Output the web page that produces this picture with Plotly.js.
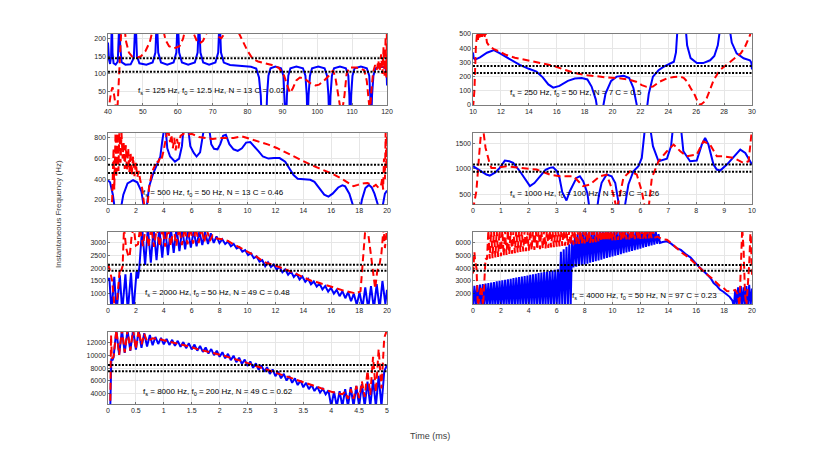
<!DOCTYPE html>
<html>
  <head>
    <meta charset="utf-8" />
    <title>Instantaneous Frequency</title>
    <script src="https://cdn.plot.ly/plotly-3.0.1.min.js"></script>
    <style>
      body { margin: 0; padding: 0; background: white; }
      #graphDiv { width: 830px; height: 453px; }
    </style>
  </head>
  <body>
    <div id="graphDiv"></div>
    <script>
      // panel parameters
      const fsVals = [125, 250, 500, 1000, 2000, 4000, 8000];
      const f0Vals = [12.5, 50, 50, 100, 50, 50, 200];
      const nVals = [13, 7, 13, 13, 49, 97, 49];
      const cVals = [0.02, 0.5, 0.46, 1.26, 0.48, 0.23, 0.62];

      // dotted reference lines, [upper, lower] per panel
      const refLines = [[144, 106], [275, 225], [540, 460], [1085, 945], [2140, 1900], [4270, 3800], [8500, 7500]];

      // [t (ms), f (Hz)] blue solid traces
      const blue1 = [[40,188],[40.3,140],[40.6,128],[40.9,150],[41.1,260],[41.3,160],[41.6,130],[42.2,126],[42.8,135],[43.1,190],[43.3,260],[43.5,180],[43.9,133],[45,126],[46.5,127],[47.4,145],[47.9,260],[48.3,150],[49,130],[51,126],[52.8,132],[53.6,160],[54,260],[54.4,160],[55.2,132],[57,126],[58.8,132],[59.6,160],[60,260],[60.4,160],[61.2,132],[63,126],[64.9,132],[65.7,160],[66.1,260],[66.5,160],[67.3,132],[69,126],[70.8,132],[71.6,160],[72,260],[72.4,160],[73.2,132],[75,125],[78,123],[81,120],[82.5,115],[83.3,90],[83.8,40],[84.2,-60],[85.3,-60],[85.6,40],[86,95],[86.6,116],[88,121],[89.6,116],[90.3,95],[90.7,40],[91,-60],[91.3,40],[91.7,95],[92.3,116],[94,121],[95.9,116],[96.6,95],[97,40],[97.2,-60],[97.5,40],[97.9,95],[98.5,116],[100.3,121],[102.1,116],[102.8,95],[103.2,40],[103.5,-60],[103.8,40],[104.2,95],[104.8,116],[106.5,121],[108.2,116],[108.9,95],[109.2,40],[109.4,-60],[109.7,40],[110.1,95],[110.7,116],[112.5,121],[114.2,116],[114.9,95],[115.2,40],[115.4,-60],[115.7,40],[116.1,95],[116.7,116],[118.5,120],[119.5,118],[119.9,100],[120,68]];
      const blue2 = [[10,370],[10.05,330],[10.15,320],[10.5,335],[11,368],[11.5,387],[12,360],[12.7,318],[13.35,282],[14,255],[14.55,235],[15,195],[15.4,145],[15.75,122],[16.2,135],[16.8,170],[17.3,186],[17.8,190],[18.2,180],[18.5,130],[18.8,40],[19,-80],[19.2,-80],[19.5,80],[19.9,170],[20.3,200],[20.8,206],[21.2,190],[21.5,120],[21.7,20],[21.9,-80],[22.4,-80],[22.6,80],[22.9,200],[23.3,245],[23.65,268],[24,285],[24.4,305],[24.55,370],[24.7,600],[25.2,600],[25.35,420],[25.6,330],[26.05,295],[26.5,295],[27,315],[27.3,345],[27.55,420],[27.8,600],[28.3,600],[28.55,440],[28.9,364],[29.4,329],[29.85,315],[29.95,300],[30,250]];
      const blue3 = [[0,387],[0.15,370],[0.35,250],[0.5,100],[0.9,100],[1.1,250],[1.4,360],[1.8,390],[2.1,370],[2.4,280],[2.6,100],[2.75,100],[2.95,330],[3.2,440],[3.5,540],[3.75,620],[3.9,780],[4,950],[4.1,950],[4.25,700],[4.45,620],[4.8,570],[5.1,600],[5.3,720],[5.45,950],[5.7,950],[5.9,720],[6.15,655],[6.35,620],[6.6,660],[6.8,790],[6.95,950],[7.2,950],[7.4,740],[7.6,695],[7.85,690],[8.05,740],[8.25,820],[8.45,830],[8.7,740],[9,690],[9.3,675],[9.6,700],[9.9,755],[10.2,760],[10.5,720],[10.8,670],[11.1,620],[11.5,600],[11.9,605],[12.3,605],[12.7,570],[13.05,493],[13.3,440],[13.6,405],[14,398],[14.5,395],[14.8,375],[15.2,300],[15.5,250],[15.8,232],[16.1,260],[16.5,320],[16.8,340],[17,330],[17.3,260],[17.55,150],[17.7,50],[18,50],[18.2,200],[18.45,315],[18.7,345],[18.9,320],[19.1,260],[19.35,150],[19.5,50],[19.7,150],[19.85,260],[20,290]];
      const blue4 = [[0,1053],[0.2,980],[0.48,888],[0.6,868],[0.8,930],[0.96,1020],[1.14,1164],[1.3,1150],[1.44,1118],[1.68,954],[1.85,820],[2.04,658],[2.2,720],[2.4,855],[2.6,980],[2.75,1020],[2.87,1033],[3,960],[3.1,822],[3.2,540],[3.35,375],[3.47,559],[3.6,720],[3.71,822],[3.83,855],[3.95,757],[4.1,520],[4.19,150],[4.43,150],[4.52,500],[4.61,724],[4.79,888],[4.97,855],[5.1,720],[5.18,450],[5.27,150],[5.41,150],[5.5,500],[5.57,691],[5.75,954],[5.93,1053],[6.05,1217],[6.13,1500],[6.2,2000],[6.3,2000],[6.45,1450],[6.65,1151],[6.95,1200],[7.1,1450],[7.2,2000],[7.42,2000],[7.54,1349],[7.78,1151],[8.02,1164],[8.2,1480],[8.32,1612],[8.44,1480],[8.62,1086],[8.74,987],[8.86,967],[9.1,1086],[9.46,1316],[9.58,1382],[9.76,1316],[10,1086]];
      const blue5 = [[0,1500],[0.1,1620],[0.25,300],[0.45,1660],[0.62,300],[0.85,1720],[1.02,300],[1.25,1760],[1.42,300],[1.65,1820],[1.82,300],[2.05,1880],[2.15,1600],[2.25,2050],[2.45,3600],[2.66,2130],[2.86,3600],[3.07,2220],[3.27,3600],[3.48,2320],[3.68,3600],[3.89,2420],[4.09,3600],[4.3,2520],[4.5,3600],[4.71,2610],[4.91,3600],[5.12,2680],[5.32,3550],[5.53,2750],[5.73,3500],[5.94,2820],[6.14,3480],[6.35,2870],[6.55,3450],[6.76,2920],[6.96,3420],[7.17,2960],[7.37,3380],[7.58,3000],[7.78,3260],[7.99,3000],[8.19,3150],[8.4,2960],[8.6,3060],[8.81,2870],[9.01,2960],[9.22,2780],[9.42,2840],[9.63,2660],[9.83,2720],[10.04,2520],[10.24,2600],[10.45,2400],[10.65,2470],[10.86,2260],[11.06,2320],[11.27,2080],[11.47,2240],[11.68,2050],[11.88,2150],[12.09,1950],[12.29,2060],[12.5,1840],[12.7,1960],[12.91,1750],[13.11,1880],[13.32,1660],[13.52,1780],[13.73,1560],[13.93,1680],[14.14,1470],[14.34,1590],[14.55,1370],[14.75,1480],[14.96,1280],[15.16,1400],[15.37,1170],[15.57,1300],[15.78,1080],[15.98,1230],[16.19,1000],[16.39,1150],[16.6,900],[16.8,1100],[17.01,820],[17.21,1060],[17.42,700],[17.62,1000],[17.83,560],[18.03,1050],[18.24,450],[18.44,1250],[18.65,400],[18.85,1300],[19.06,400],[19.26,1380],[19.47,400],[19.67,1500],[19.88,600],[20,1150]];
      const blue6 = [[0,1000],[0.1,2620],[0.2,1000],[0.3,2670],[0.4,1000],[0.5,2710],[0.6,1000],[0.7,2750],[0.8,1000],[0.9,2800],[1,1000],[1.1,2840],[1.2,1000],[1.3,2880],[1.4,1000],[1.5,2920],[1.6,1000],[1.7,2970],[1.8,1000],[1.9,3010],[2,1000],[2.1,3050],[2.2,1000],[2.3,3100],[2.4,1000],[2.5,3140],[2.6,1000],[2.7,3180],[2.8,1000],[2.9,3230],[3,1000],[3.1,3270],[3.2,1000],[3.3,3310],[3.4,1000],[3.5,3360],[3.6,1000],[3.7,3400],[3.8,1000],[3.9,3440],[4,1000],[4.1,3490],[4.2,1000],[4.3,3530],[4.4,1000],[4.5,3570],[4.6,1000],[4.7,3620],[4.8,1000],[4.9,3660],[5,1000],[5.1,3700],[5.2,1000],[5.3,3740],[5.4,1000],[5.5,3790],[5.6,1000],[5.7,3830],[5.8,1000],[5.9,3880],[6,1000],[6.1,3920],[6.2,1000],[6.3,5300],[6.4,1000],[6.5,5500],[6.6,1000],[6.7,5700],[6.8,1000],[6.9,5900],[7,1000],[7.1,6200],[7.2,4060],[7.3,6500],[7.4,4120],[7.5,6700],[7.6,4190],[7.7,6900],[7.8,4250],[7.9,7000],[8,4310],[8.1,7000],[8.2,4370],[8.3,7000],[8.4,4440],[8.5,7000],[8.6,4500],[8.7,7000],[8.8,4560],[8.9,7000],[9,4620],[9.1,7000],[9.2,4690],[9.3,7000],[9.4,4750],[9.5,7000],[9.6,4810],[9.7,7000],[9.8,4870],[9.9,7000],[10,4940],[10.1,7000],[10.2,5000],[10.3,7000],[10.4,5060],[10.5,7000],[10.6,5120],[10.7,7000],[10.8,5190],[10.9,7000],[11,5250],[11.1,7000],[11.2,5310],[11.3,7000],[11.4,5370],[11.5,7000],[11.6,5440],[11.7,7000],[11.8,5500],[11.9,7000],[12,5560],[12.1,7000],[12.2,5620],[12.3,7000],[12.4,5690],[12.5,7000],[12.6,5750],[12.7,7000],[12.8,5810],[12.9,7000],[13,5870],[13.1,6950],[13.2,5940],[13.3,6700],[13.4,6000],[13.6,6080],[13.9,6130],[14.2,5950],[14.6,5600],[14.9,5450],[15.3,5080],[15.6,4850],[16.05,4290],[16.3,4050],[16.5,3850],[16.8,3500],[17.05,3200],[17.25,2840],[17.5,2600],[17.7,2320],[17.95,2150],[18.2,1920],[18.4,1750],[18.6,1450],[18.7,1000],[18.8,2300],[18.9,1000],[19,2500],[19.1,1000],[19.2,2600],[19.3,1000],[19.4,2500],[19.5,1000],[19.6,2600],[19.7,1000],[19.8,2700],[19.9,1000],[20,2400]];
      const blue7 = [[0,1500],[0.04,1500],[0.06,9500],[0.08,9200],[0.1,9700],[0.15,14000],[0.2,10100],[0.25,14000],[0.3,10400],[0.35,14000],[0.4,10700],[0.45,14000],[0.5,10900],[0.55,13900],[0.6,11200],[0.65,13500],[0.7,11400],[0.75,13200],[0.8,11600],[0.85,12900],[0.9,11800],[0.95,12750],[1,11750],[1.05,12600],[1.1,11650],[1.15,12450],[1.2,11500],[1.25,12300],[1.3,11350],[1.35,12100],[1.4,11150],[1.45,11900],[1.5,10950],[1.55,11700],[1.6,10750],[1.65,11500],[1.7,10550],[1.75,11250],[1.8,10300],[1.85,11000],[1.9,10050],[1.95,10750],[2,9800],[2.05,10500],[2.1,9550],[2.15,10250],[2.2,9250],[2.25,9950],[2.3,8950],[2.35,9650],[2.4,8650],[2.45,9350],[2.5,8350],[2.55,9050],[2.6,8050],[2.65,8750],[2.7,7750],[2.75,8450],[2.8,7450],[2.85,8150],[2.9,7100],[2.95,7800],[3,6750],[3.05,7450],[3.1,6400],[3.15,7100],[3.2,6050],[3.25,6750],[3.3,5700],[3.35,6400],[3.4,5350],[3.45,6050],[3.5,5000],[3.55,5700],[3.6,4700],[3.65,5350],[3.7,4400],[3.75,5050],[3.8,4150],[3.85,4750],[3.9,3900],[3.95,4500],[4,2000],[4.05,4300],[4.1,2000],[4.15,4400],[4.2,2000],[4.25,4700],[4.3,2000],[4.35,5000],[4.4,2000],[4.45,5200],[4.5,2000],[4.55,5500],[4.6,2000],[4.65,5900],[4.7,2000],[4.75,6200],[4.8,2000],[4.85,6800],[4.9,2000],[4.95,7500],[5,8500]];

      // [t (ms), f (Hz)] red dashed traces
      const red1 = [[40,-10],[40.4,20],[40.9,50],[41.3,63],[41.7,45],[42.2,10],[42.6,-20],[43,60],[43.4,150],[43.8,250],[44.2,300],[44.6,240],[45.2,190],[46,160],[47,148],[48.2,145],[49.5,150],[50.8,165],[52,190],[53,230],[54,280],[55.5,240],[56.5,195],[57.5,178],[59,172],[60.5,178],[61.5,198],[62.5,240],[63.5,260],[64.5,215],[65.5,192],[66.3,186],[67.2,192],[68.3,215],[69.3,250],[70.5,230],[71.5,205],[72.5,200],[73.5,215],[74.5,240],[75.5,225],[76.5,218],[77.5,215],[78.5,195],[80,165],[81.5,142],[83,135],[85,130],[87,125],[89,117],[90.5,95],[91.5,65],[92.2,47],[93,60],[94,82],[95,90],[96.5,86],[98,74],[99.5,68],[100.5,70],[102,82],[103.5,97],[104.5,110],[105.2,90],[105.8,50],[106.6,5],[107.2,0],[107.8,40],[108.4,100],[109.2,118],[111,118],[112.5,115],[113.5,110],[114.2,80],[114.8,20],[115.1,-10],[115.5,50],[116,105],[116.6,125],[117.1,112],[117.5,138],[117.9,108],[118.3,155],[118.7,100],[119,175],[119.3,95],[119.6,205],[119.8,90],[120,260]];
      const red2 = [[10,-20],[10.1,100],[10.2,400],[10.3,520],[10.35,450],[10.4,530],[10.45,460],[10.5,540],[10.55,470],[10.6,540],[10.65,480],[10.7,530],[10.8,470],[10.9,510],[11,440],[11.2,410],[11.5,394],[12,370],[12.4,352],[13,333],[14.1,310],[15,292],[15.75,277],[16.5,250],[17.4,223],[18.2,210],[18.9,200],[19.7,193],[20.5,188],[21.2,178],[21.7,164],[22.1,140],[22.45,128],[22.9,130],[23.4,165],[23.9,188],[24.4,198],[24.85,200],[25.1,192],[25.35,165],[25.6,120],[25.9,70],[26.1,25],[26.3,0],[26.55,20],[26.75,47],[27,110],[27.25,176],[27.7,246],[28.4,300],[28.8,330],[29.2,364],[29.5,410],[29.7,450],[29.85,490],[30,540]];
      const red3 = [[0,100],[0.2,100],[0.3,200],[0.4,700],[0.45,300],[0.55,900],[0.6,420],[0.68,900],[0.75,480],[0.82,900],[0.9,560],[0.97,850],[1.05,600],[1.12,760],[1.2,500],[1.28,730],[1.36,480],[1.45,700],[1.53,470],[1.62,660],[1.7,440],[1.8,620],[1.9,430],[2,560],[2.1,420],[2.2,480],[2.3,400],[2.45,310],[2.55,200],[2.65,100],[2.8,100],[2.95,320],[3.1,430],[3.25,500],[3.4,540],[3.5,580],[3.6,560],[3.7,600],[3.8,580],[3.9,620],[4,680],[4.1,760],[4.2,860],[4.3,900],[4.45,760],[4.55,830],[4.65,700],[4.75,800],[4.85,680],[4.95,790],[5.05,700],[5.2,820],[5.4,840],[5.7,830],[6,840],[6.5,810],[7,800],[7.5,790],[8,800],[8.5,800],[9,800],[9.6,815],[10.2,790],[10.9,767],[11.5,735],[12.1,703],[12.7,662],[13.3,622],[13.9,582],[14.5,542],[15.1,508],[15.7,477],[16.2,445],[16.65,413],[17,385],[17.4,348],[17.6,332],[17.9,345],[18.1,355],[18.4,362],[18.6,364],[18.8,350],[19.05,332],[19.2,345],[19.4,316],[19.55,330],[19.65,400],[19.72,300],[19.78,600],[19.85,400],[19.9,850],[19.95,500],[20,900]];
      const red4 = [[0,200],[0.12,559],[0.24,1414],[0.3,1800],[0.36,1800],[0.45,1414],[0.6,1100],[0.66,1020],[0.84,1020],[1.2,1053],[1.68,1020],[2.28,987],[2.75,888],[3.11,855],[3.6,855],[3.95,658],[4.19,691],[4.55,855],[4.79,888],[4.95,650],[5.05,450],[5.15,200],[5.27,493],[5.39,822],[5.63,954],[5.87,888],[6.05,559],[6.17,200],[6.29,200],[6.41,822],[6.65,1151],[6.95,1349],[7.19,1480],[7.43,1349],[7.66,1250],[8.02,1283],[8.26,1546],[8.5,1480],[8.74,1250],[8.98,1250],[9.34,1217],[9.7,1118],[9.88,1151],[9.94,1480],[10,1800]];
      const red5 = [[0,2170],[0.12,1950],[0.3,1500],[0.45,600],[0.6,400],[0.75,1200],[0.85,2000],[0.95,1900],[1.05,2100],[1.15,3600],[1.3,2800],[1.45,2500],[1.55,2450],[1.7,3300],[1.85,3600],[2,2900],[2.15,2950],[2.3,3600],[2.5,2880],[2.7,3600],[2.9,2860],[3.1,3600],[3.3,2850],[3.5,3600],[3.7,2860],[3.9,3600],[4.1,2860],[4.3,3600],[4.5,2880],[4.7,3600],[4.9,2900],[5.1,3600],[5.3,2920],[5.5,3600],[5.7,2950],[5.9,3600],[6.1,2980],[6.3,3600],[6.5,3000],[6.7,3600],[6.9,3030],[7.1,3500],[7.3,3080],[7.5,3300],[7.8,3180],[8.2,3150],[8.6,3080],[9,2950],[9.4,2830],[9.8,2700],[10.2,2600],[10.6,2480],[11,2320],[11.4,2200],[11.8,2150],[12.2,2080],[12.6,1980],[13,1900],[13.4,1800],[13.8,1690],[14.2,1600],[14.6,1500],[15,1450],[15.4,1380],[15.8,1290],[16.2,1230],[16.6,1150],[17,1100],[17.4,1060],[17.8,1000],[18.1,1100],[18.3,2400],[18.45,3600],[18.6,3600],[18.75,3000],[18.9,2400],[19.05,1750],[19.15,1200],[19.3,1900],[19.45,2100],[19.6,2600],[19.75,3600],[19.85,2800],[19.95,3600],[20,3600]];
      const red6 = [[0,3600],[0.05,4400],[0.1,5300],[0.15,4600],[0.25,4000],[0.35,1000],[0.5,2000],[0.6,2600],[0.72,1000],[0.8,3000],[0.9,4800],[1,4700],[1.1,7000],[1.2,4750],[1.3,7000],[1.4,4800],[1.5,7000],[1.6,4850],[1.7,7000],[1.8,4900],[1.9,7000],[2,4950],[2.1,7000],[2.2,5000],[2.3,7000],[2.4,5050],[2.5,7000],[2.6,5100],[2.7,7000],[2.8,5150],[2.9,7000],[3,5200],[3.1,7000],[3.2,5250],[3.3,7000],[3.4,5300],[3.5,7000],[3.6,5330],[3.7,7000],[3.8,5360],[3.9,7000],[4,5390],[4.1,7000],[4.2,5420],[4.3,7000],[4.4,5460],[4.5,7000],[4.6,5490],[4.7,7000],[4.8,5520],[4.9,7000],[5,5550],[5.1,7000],[5.2,5580],[5.3,7000],[5.4,5610],[5.5,7000],[5.6,5640],[5.7,7000],[5.8,5670],[5.9,7000],[6,5700],[6.1,7000],[6.2,5730],[6.3,7000],[6.4,5760],[6.5,7000],[6.6,5790],[6.7,7000],[6.8,5820],[6.9,7000],[7,5850],[7.1,7000],[7.2,5870],[7.3,7000],[7.4,5900],[7.5,7000],[7.6,5920],[7.7,7000],[7.8,5940],[7.9,7000],[8,5970],[8.1,7000],[8.2,5990],[8.3,7000],[8.4,6010],[8.5,7000],[8.6,6040],[8.7,7000],[8.8,6060],[8.9,7000],[9,6080],[9.1,7000],[9.2,6110],[9.3,7000],[9.4,6130],[9.5,7000],[9.6,6150],[9.7,7000],[9.8,6180],[9.9,7000],[10,6200],[10.1,7000],[10.2,6220],[10.3,7000],[10.4,6240],[10.5,7000],[10.6,6260],[10.7,7000],[10.8,6270],[10.9,7000],[11,6280],[11.1,7000],[11.2,6290],[11.3,7000],[11.4,6300],[11.5,7000],[11.6,6310],[11.7,7000],[11.8,6320],[11.9,7000],[12,6330],[12.1,7000],[12.2,6340],[12.3,7000],[12.4,6350],[12.5,7000],[12.6,6370],[12.7,7000],[12.8,6380],[12.9,7000],[13,6400],[13.2,6500],[13.6,6300],[13.9,6260],[14.3,5900],[14.7,5500],[15,5210],[15.4,4900],[15.8,4500],[16.1,4160],[16.5,3800],[16.8,3500],[17.1,3240],[17.4,2900],[17.7,2600],[17.95,2450],[18.2,2200],[18.5,2180],[18.8,2300],[19,1900],[19.1,1000],[19.2,4000],[19.3,7200],[19.4,5500],[19.5,2000],[19.6,1000],[19.7,2500],[19.8,4300],[19.9,7200],[20,3500]];
      const red7 = [[0,1500],[0.04,1500],[0.055,13200],[0.07,9500],[0.1,9800],[0.15,14000],[0.2,10100],[0.25,14000],[0.3,10500],[0.35,14000],[0.4,10800],[0.45,14000],[0.5,11000],[0.55,14000],[0.6,11700],[0.65,13400],[0.7,12200],[0.8,12700],[0.9,12600],[1,12400],[1.1,12200],[1.2,12000],[1.3,11700],[1.4,11500],[1.5,11300],[1.6,11000],[1.7,10800],[1.8,10600],[1.9,10400],[2,10200],[2.1,9900],[2.2,9600],[2.3,9400],[2.4,9100],[2.5,8800],[2.6,8500],[2.7,8200],[2.8,7900],[2.9,7600],[3,7300],[3.1,7000],[3.2,6700],[3.3,6300],[3.4,6000],[3.5,5700],[3.6,5400],[3.7,5100],[3.8,4800],[3.9,4600],[4,4300],[4.1,4100],[4.2,3900],[4.25,4300],[4.3,3200],[4.35,4700],[4.4,3200],[4.45,5200],[4.5,3300],[4.55,5900],[4.6,3500],[4.65,7600],[4.7,3800],[4.75,9800],[4.8,4200],[4.85,11000],[4.9,4800],[4.95,12800],[5,14000]];

      const blueSeries = [blue1, blue2, blue3, blue4, blue5, blue6, blue7];
      const redSeries = [red1, red2, red3, red4, red5, red6, red7];

      // axes
      const xRanges = [[40, 120], [10, 30], [0, 20], [0, 10], [0, 20], [0, 20], [0, 5]];
      const yRanges = [[13, 212], [0, 500], [155, 848], [296, 1710], [592, 3434], [1184, 6868], [2368, 13684]];
      const xSteps = [10, 2, 2, 1, 2, 2, 0.5];
      const ySteps = [50, 100, 200, 500, 500, 1000, 2000];

      // label anchor points in data units
      const labelX = [48.0, 12.5, 2.37, 1.25, 2.49, 6.95, 0.6];
      const labelY = [52, 82, 268, 513, 1026, 1842, 4210];

      const colDomains = [[0.1301, 0.4663], [0.5699, 0.906]];
      const rowDomains = [[0.7682, 0.9249], [0.5486, 0.7064], [0.3289, 0.4879], [0.1082, 0.2671]];

      const FONT = "Liberation Sans, Arial, Helvetica, sans-serif";
      const traces = [];
      const layout = {
        width: 830,
        height: 453,
        margin: { l: 0, r: 0, t: 0, b: 0 },
        paper_bgcolor: "white",
        plot_bgcolor: "white",
        showlegend: false,
        hovermode: false,
        font: { family: FONT, color: "#262626", size: 8 },
        annotations: [],
      };

      for (let i = 0; i < 7; i++) {
        const n = i === 0 ? "" : String(i + 1);
        const xa = "x" + n;
        const ya = "y" + n;
        const row = Math.floor(i / 2);
        const col = i % 2;

        const axisCommon = {
          showline: true,
          mirror: true,
          linecolor: "#262626",
          linewidth: 0.6,
          showgrid: true,
          gridcolor: "#e6e6e6",
          gridwidth: 1,
          zeroline: false,
          ticks: "inside",
          ticklen: 2,
          tickwidth: 0.6,
          tickcolor: "#262626",
          tickfont: { size: 7, color: "#262626", family: FONT },
          exponentformat: "none",
          fixedrange: true,
        };

        layout["xaxis" + n] = Object.assign({}, axisCommon, {
          domain: colDomains[col],
          anchor: ya,
          range: xRanges[i],
          dtick: xSteps[i],
          tick0: 0,
        });
        layout["yaxis" + n] = Object.assign({}, axisCommon, {
          domain: rowDomains[row],
          anchor: xa,
          range: yRanges[i],
          dtick: ySteps[i],
          tick0: 0,
          tickformat: "d",
        });

        traces.push({
          x: blueSeries[i].map((p) => p[0]),
          y: blueSeries[i].map((p) => p[1]),
          xaxis: xa,
          yaxis: ya,
          mode: "lines",
          line: { color: "#0000ff", width: 2 },
          hoverinfo: "skip",
        });
        traces.push({
          x: redSeries[i].map((p) => p[0]),
          y: redSeries[i].map((p) => p[1]),
          xaxis: xa,
          yaxis: ya,
          mode: "lines",
          line: { color: "#ff0000", width: 2, dash: "7px,4px" },
          hoverinfo: "skip",
        });
        for (const v of refLines[i]) {
          traces.push({
            x: xRanges[i],
            y: [v, v],
            xaxis: xa,
            yaxis: ya,
            mode: "lines",
            line: { color: "#000000", width: 2, dash: "2px,1.5px" },
            hoverinfo: "skip",
          });
        }

        layout.annotations.push({
          xref: xa,
          yref: ya,
          x: labelX[i],
          y: labelY[i],
          xanchor: "left",
          yanchor: "middle",
          showarrow: false,
          text: `f<sub>s</sub> = ${fsVals[i]} Hz, f<sub>0</sub> = ${f0Vals[i]} Hz, N = ${nVals[i]} C = ${cVals[i]}`,
          font: { size: 8, color: "#000000", family: FONT },
        });
      }

      layout.annotations.push({
        xref: "paper",
        yref: "paper",
        x: 0.0627,
        y: 0.5265,
        textangle: -90,
        showarrow: false,
        text: "Instantaneous Frequency (Hz)",
        font: { size: 8, color: "#404040", family: FONT },
      });
      layout.annotations.push({
        xref: "paper",
        yref: "paper",
        x: 0.5175,
        y: 0.0227,
        showarrow: false,
        text: "Time (ms)",
        font: { size: 9, color: "#404040", family: FONT },
      });

      Plotly.newPlot("graphDiv", traces, layout, { displayModeBar: false, staticPlot: true });
    </script>
  </body>
</html>
